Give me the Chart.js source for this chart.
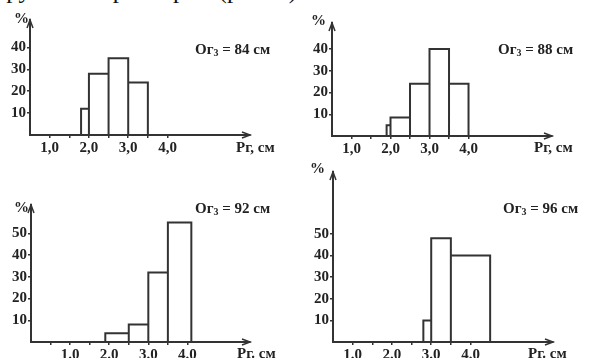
<!DOCTYPE html>
<html>
<head>
<meta charset="utf-8">
<script src="https://cdn.jsdelivr.net/npm/chart.js@4/dist/chart.umd.min.js"></script>
<style>
  body { margin: 0; background: #fff; }
  #wrap { position: relative; width: 589px; height: 358px; overflow: hidden; font-family: "Liberation Serif", serif; color: #222; }
  canvas { position: absolute; }
  .lbl { position: absolute; font-size: 15px; line-height: 16px; white-space: nowrap; font-weight: bold; }
  .lbl sub { font-size: 10px; vertical-align: -2px; }
  .top { position: absolute; left: -4px; top: -24px; font-size: 25px; white-space: nowrap; color: #111; }
</style>
</head>
<body>
<div id="wrap">
  <div class="top">группы по размерам (рис. 5).</div>

  <canvas id="c84" style="left:0;top:0" width="295" height="165"></canvas>
  <canvas id="c88" style="left:295px;top:0" width="294" height="160"></canvas>
  <canvas id="c92" style="left:0;top:165px" width="295" height="193"></canvas>
  <canvas id="c96" style="left:295px;top:160px" width="294" height="198"></canvas>

  <div class="lbl" style="left:14px;top:10px">%</div>
  <div class="lbl" style="left:195px;top:41px">Ог<sub>3</sub> = 84 см</div>
  <div class="lbl" style="left:236px;top:139px">Рг, см</div>

  <div class="lbl" style="left:311px;top:12px">%</div>
  <div class="lbl" style="left:498px;top:41px">Ог<sub>3</sub> = 88 см</div>
  <div class="lbl" style="left:534px;top:139px">Рг, см</div>

  <div class="lbl" style="left:14px;top:199px">%</div>
  <div class="lbl" style="left:195px;top:200px">Ог<sub>3</sub> = 92 см</div>
  <div class="lbl" style="left:237px;top:345px">Рг. см</div>

  <div class="lbl" style="left:310px;top:160px">%</div>
  <div class="lbl" style="left:503px;top:200px">Ог<sub>3</sub> = 96 см</div>
  <div class="lbl" style="left:528px;top:345px">Рг. см</div>
</div>

<script>
// bin edges (Рг, см) and shares (%) for each girth group
const edges84 = [1.8, 2.0, 2.5, 3.0, 3.5];
const values84 = [12, 28, 35, 24];

const edges88 = [1.9, 2.0, 2.5, 3.0, 3.5, 4.0];
const values88 = [5, 8.5, 24, 40, 24];

const edges92 = [1.9, 2.5, 3.0, 3.5, 4.1];
const values92 = [4, 8, 32, 55];

const edges96 = [2.8, 3.0, 3.5, 4.5];
const values96 = [10, 48, 40];

// ticks
const xTicks = [1, 1.5, 2, 2.5, 3, 3.5, 4];
const xTicks92 = [0.5, 1, 1.5, 2, 2.5, 3, 3.5, 4];
const xLabelsComma = ['1,0', '2,0', '3,0', '4,0'];
const xLabelsDot = ['1.0', '2.0', '3.0', '4.0'];
const yTicksTop = [10, 20, 30, 40];
const yTicksBottom = [10, 20, 30, 40, 50];

const INK = '#333';
const FONT = { family: 'Liberation Serif', size: 15, weight: 'bold' };

function outline(edges, values) {
    const pts = [];
    values.forEach((v, i) => {
        pts.push({x: edges[i], y: 0});
        pts.push({x: edges[i], y: v});
        pts.push({x: edges[i + 1], y: v});
        pts.push({x: edges[i + 1], y: 0});
    });
    return pts;
}

const arrows = {
    id: 'arrows',
    afterDraw(chart) {
        const a = chart.chartArea;
        const c = chart.ctx;
        c.save();
        c.strokeStyle = INK;
        c.lineWidth = 1.5;
        c.beginPath();
        c.moveTo(a.right - 8, a.bottom - 3);
        c.lineTo(a.right, a.bottom);
        c.lineTo(a.right - 8, a.bottom + 3);
        c.moveTo(a.left - 3, a.top + 8);
        c.lineTo(a.left, a.top);
        c.lineTo(a.left + 3, a.top + 8);
        c.stroke();
        c.restore();
    }
};

function makePanel(id, edges, values, p) {
    const canvas = document.getElementById(id);
    new Chart(canvas, {
        type: 'scatter',
        data: {
            datasets: [{
                data: outline(edges, values),
                showLine: true,
                borderColor: INK,
                borderWidth: 2,
                pointRadius: 0,
                fill: false
            }]
        },
        options: {
            responsive: false,
            animation: false,
            layout: { padding: { left: 0, right: canvas.width - p.right, top: p.top, bottom: 0 } },
            plugins: { legend: { display: false }, tooltip: { enabled: false } },
            scales: {
                x: {
                    type: 'linear',
                    min: p.xMin,
                    max: p.xMax,
                    afterFit: s => { s.height = canvas.height - p.bottom; },
                    afterBuildTicks: s => { s.ticks = p.xTicks.map(v => ({value: v})); },
                    border: { display: true, color: INK, width: 2 },
                    grid: { drawOnChartArea: false, drawTicks: true, tickLength: 3, color: INK, lineWidth: 1.5 },
                    ticks: {
                        autoSkip: false,
                        maxRotation: 0,
                        padding: 1,
                        color: '#222',
                        font: FONT,
                        callback: v => Number.isInteger(v) ? p.xLabels[v - 1] : ''
                    }
                },
                y: {
                    min: 0,
                    max: p.yMax,
                    afterFit: s => { s.width = p.left; },
                    afterBuildTicks: s => { s.ticks = p.yTicks.map(v => ({value: v})); },
                    border: { display: true, color: INK, width: 2 },
                    grid: { drawOnChartArea: false, drawTicks: true, tickLength: 3, color: INK, lineWidth: 1.5 },
                    ticks: {
                        padding: 1,
                        color: '#222',
                        font: FONT
                    }
                }
            }
        },
        plugins: [arrows]
    });
}

makePanel('c84', edges84, values84, {
    left: 30, right: 250, top: 20, bottom: 135,
    xMin: 0.5, xMax: 6.1, yMax: 52.5,
    xTicks: xTicks, xLabels: xLabelsComma, yTicks: yTicksTop
});
makePanel('c88', edges88, values88, {
    left: 37, right: 257, top: 23, bottom: 136,
    xMin: 0.5, xMax: 6.14, yMax: 52,
    xTicks: xTicks, xLabels: xLabelsComma, yTicks: yTicksTop
});
makePanel('c92', edges92, values92, {
    left: 31, right: 250, top: 40, bottom: 177,
    xMin: 0, xMax: 5.6, yMax: 63,
    xTicks: xTicks92, xLabels: xLabelsDot, yTicks: yTicksBottom
});
makePanel('c96', edges96, values96, {
    left: 38, right: 258, top: 12, bottom: 182,
    xMin: 0.5, xMax: 6.1, yMax: 78.7,
    xTicks: xTicks, xLabels: xLabelsDot, yTicks: yTicksBottom
});
</script>
</body>
</html>
